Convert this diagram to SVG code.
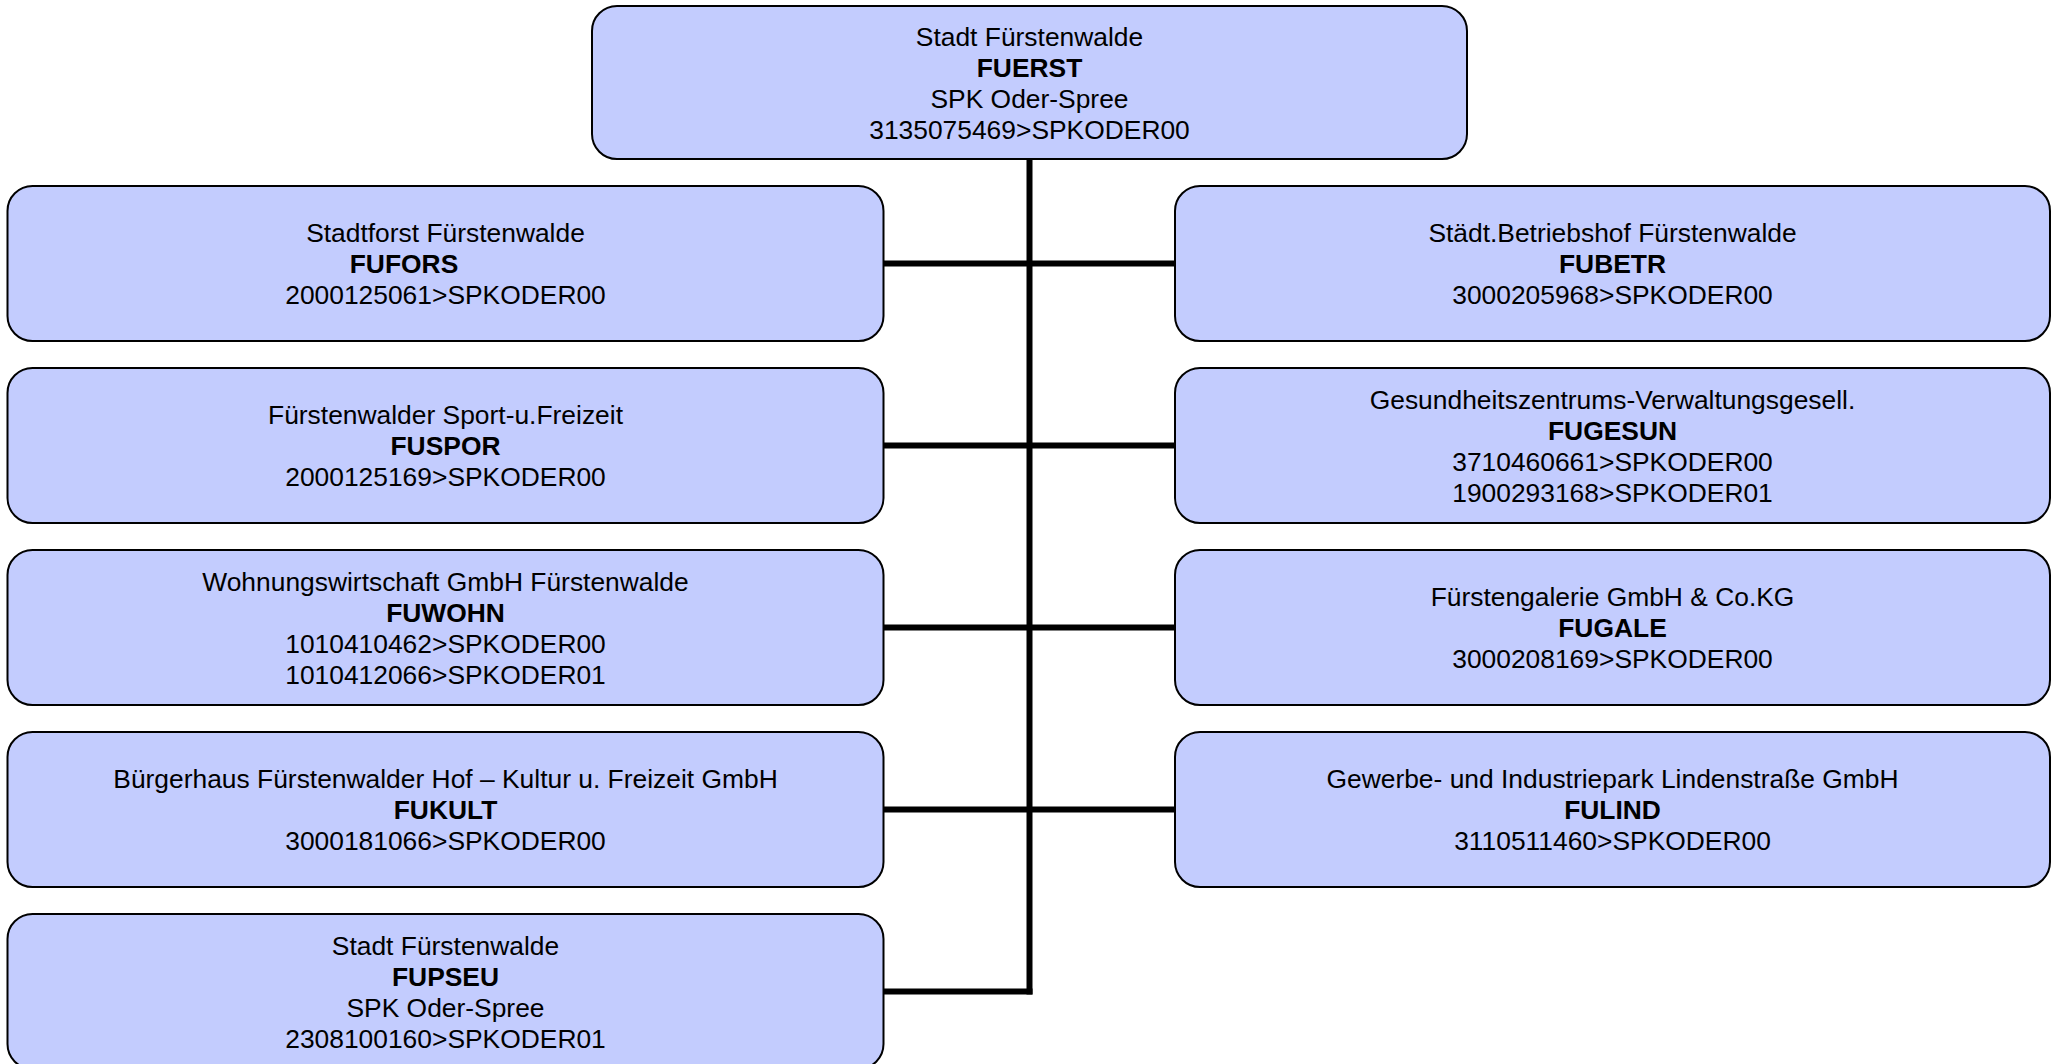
<svg xmlns="http://www.w3.org/2000/svg" width="2060" height="1064" viewBox="0 0 2060 1064">
<style>
.box{fill:#C3CCFE;stroke:#000;stroke-width:2}
.t{font-family:"Liberation Sans",Arial,sans-serif;font-size:26.4px;fill:#000;text-anchor:middle}
.b{font-weight:bold}
.c{stroke:#000;stroke-width:6;fill:none}
</style>
<rect width="2060" height="1064" fill="#fff"/>
<g id="connectors">
<line class="c" x1="1029.5" y1="159" x2="1029.5" y2="994.5"/>
<line class="c" x1="883.5" y1="263.5" x2="1175" y2="263.5"/>
<line class="c" x1="883.5" y1="445.5" x2="1175" y2="445.5"/>
<line class="c" x1="883.5" y1="627.5" x2="1175" y2="627.5"/>
<line class="c" x1="883.5" y1="809.5" x2="1175" y2="809.5"/>
<line class="c" x1="883.5" y1="991.5" x2="1032.5" y2="991.5"/>
</g>
<g id="FUERST">
<rect class="box" x="592" y="6" width="875" height="153" rx="25" ry="25"/>
<text class="t" x="1029.5" y="45.5">Stadt Fürstenwalde</text>
<text class="t b" x="1029.5" y="76.5">FUERST</text>
<text class="t" x="1029.5" y="107.5">SPK Oder-Spree</text>
<text class="t" x="1029.5" y="138.5">3135075469&gt;SPKODER00</text>
</g>
<g id="FUFORS">
<rect class="box" x="7.5" y="186" width="876" height="155" rx="25" ry="25"/>
<text class="t" x="445.5" y="242">Stadtforst Fürstenwalde</text>
<text class="t b" x="404" y="273">FUFORS</text>
<text class="t" x="445.5" y="304">2000125061&gt;SPKODER00</text>
</g>
<g id="FUSPOR">
<rect class="box" x="7.5" y="368" width="876" height="155" rx="25" ry="25"/>
<text class="t" x="445.5" y="424">Fürstenwalder Sport-u.Freizeit</text>
<text class="t b" x="445.5" y="455">FUSPOR</text>
<text class="t" x="445.5" y="486">2000125169&gt;SPKODER00</text>
</g>
<g id="FUWOHN">
<rect class="box" x="7.5" y="550" width="876" height="155" rx="25" ry="25"/>
<text class="t" x="445.5" y="590.5">Wohnungswirtschaft GmbH Fürstenwalde</text>
<text class="t b" x="445.5" y="621.5">FUWOHN</text>
<text class="t" x="445.5" y="652.5">1010410462&gt;SPKODER00</text>
<text class="t" x="445.5" y="683.5">1010412066&gt;SPKODER01</text>
</g>
<g id="FUKULT">
<rect class="box" x="7.5" y="732" width="876" height="155" rx="25" ry="25"/>
<text class="t" x="445.5" y="788">Bürgerhaus Fürstenwalder Hof – Kultur u. Freizeit GmbH</text>
<text class="t b" x="445.5" y="819">FUKULT</text>
<text class="t" x="445.5" y="850">3000181066&gt;SPKODER00</text>
</g>
<g id="FUPSEU">
<rect class="box" x="7.5" y="914" width="876" height="155" rx="25" ry="25"/>
<text class="t" x="445.5" y="954.5">Stadt Fürstenwalde</text>
<text class="t b" x="445.5" y="985.5">FUPSEU</text>
<text class="t" x="445.5" y="1016.5">SPK Oder-Spree</text>
<text class="t" x="445.5" y="1047.5">2308100160&gt;SPKODER01</text>
</g>
<g id="FUBETR">
<rect class="box" x="1175" y="186" width="875" height="155" rx="25" ry="25"/>
<text class="t" x="1612.5" y="242">Städt.Betriebshof Fürstenwalde</text>
<text class="t b" x="1612.5" y="273">FUBETR</text>
<text class="t" x="1612.5" y="304">3000205968&gt;SPKODER00</text>
</g>
<g id="FUGESUN">
<rect class="box" x="1175" y="368" width="875" height="155" rx="25" ry="25"/>
<text class="t" x="1612.5" y="408.5">Gesundheitszentrums-Verwaltungsgesell.</text>
<text class="t b" x="1612.5" y="439.5">FUGESUN</text>
<text class="t" x="1612.5" y="470.5">3710460661&gt;SPKODER00</text>
<text class="t" x="1612.5" y="501.5">1900293168&gt;SPKODER01</text>
</g>
<g id="FUGALE">
<rect class="box" x="1175" y="550" width="875" height="155" rx="25" ry="25"/>
<text class="t" x="1612.5" y="606">Fürstengalerie GmbH &amp; Co.KG</text>
<text class="t b" x="1612.5" y="637">FUGALE</text>
<text class="t" x="1612.5" y="668">3000208169&gt;SPKODER00</text>
</g>
<g id="FULIND">
<rect class="box" x="1175" y="732" width="875" height="155" rx="25" ry="25"/>
<text class="t" x="1612.5" y="788">Gewerbe- und Industriepark Lindenstraße GmbH</text>
<text class="t b" x="1612.5" y="819">FULIND</text>
<text class="t" x="1612.5" y="850">3110511460&gt;SPKODER00</text>
</g>
</svg>
